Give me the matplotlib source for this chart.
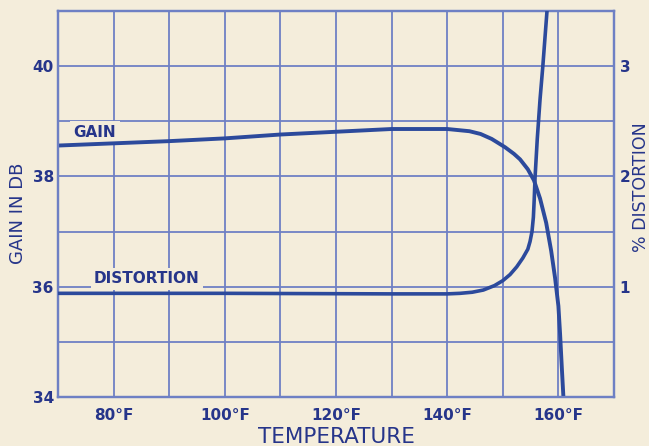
import numpy as np
import matplotlib.pyplot as plt

# gain curve (deg F, dB)
temp_gain = [70, 80, 90, 100, 110, 120, 130, 140, 144, 146, 148, 150.4, 152, 153.1, 154.5,
             155.6, 156.7, 157.8, 158.7, 159.4, 160.0, 160.3, 160.6, 160.9]
gain_db = [38.56, 38.60, 38.64, 38.69, 38.76, 38.81, 38.86, 38.86, 38.82, 38.77, 38.68,
           38.53, 38.41, 38.31, 38.13, 37.93, 37.60, 37.16, 36.65, 36.16, 35.65, 35.15,
           34.56, 34.0]

# distortion curve (deg F, %)
temp_dist = [70, 100, 130, 140, 142.3, 144.5, 146.5, 148.5, 150, 151.3, 152.5, 153.6,
             154.5, 154.9, 155.25, 155.5, 155.65, 155.8, 156.2, 156.7, 157.2, 157.95]
dist_pct = [0.94, 0.94, 0.935, 0.935, 0.94, 0.95, 0.97, 1.01, 1.055, 1.11, 1.18, 1.26,
            1.34, 1.41, 1.50, 1.63, 1.79, 1.99, 2.34, 2.70, 3.0, 3.5]

xtick_pos = [80, 100, 120, 140, 160]
xtick_lab = ['80°F', '100°F', '120°F', '140°F', '160°F']

bg = '#f4eddb'
grid_c = '#6e80c4'
ink = '#26358a'
curve_c = '#2c4a9c'

fig = plt.figure(figsize=(6.49, 4.46), dpi=100, facecolor=bg)
ax = fig.add_axes([58/649, 1 - 397/446, (614-58)/649, (397-11)/446])
ax.set_facecolor(bg)

ax.plot(temp_gain, gain_db, color=curve_c, lw=2.8, solid_joinstyle='round', zorder=3)
ax2 = ax.twinx()
ax2.plot(temp_dist, dist_pct, color=curve_c, lw=2.6, solid_joinstyle='round', zorder=3)

ax.set_xlim(70, 170)
ax.set_ylim(34, 41)
ax2.set_ylim(0, 3.5)

ax.set_xticks(range(70, 171, 10))
ax.set_xticklabels(['' if t not in xtick_pos else xtick_lab[xtick_pos.index(t)]
                    for t in range(70, 171, 10)])
ax.set_yticks(range(34, 42))
ax.set_yticklabels([str(v) if v in (34, 36, 38, 40) else '' for v in range(34, 42)])
ax2.set_yticks([1, 2, 3])
ax2.set_yticklabels(['1', '2', '3'])

ax.grid(True, color=grid_c, lw=1.3, zorder=0)
ax.set_axisbelow(True)
for a in (ax, ax2):
    for s in a.spines.values():
        s.set_color(grid_c)
        s.set_linewidth(1.6)
ax.tick_params(axis='both', length=0, colors=ink, labelsize=11)
ax.tick_params(axis='x', pad=8)
ax.tick_params(axis='y', pad=3)
ax2.tick_params(axis='y', length=0, colors=ink, labelsize=11, pad=4)
for lab in ax.get_xticklabels() + ax.get_yticklabels() + ax2.get_yticklabels():
    lab.set_fontweight('bold')

box = dict(facecolor=bg, edgecolor='none', pad=2.5)
ax.text(76.6, 38.8, 'GAIN', color=ink, fontsize=11, fontweight='bold',
        ha='center', va='center', bbox=box, zorder=2)
ax.text(86, 36.14, 'DISTORTION', color=ink, fontsize=11, fontweight='bold',
        ha='center', va='center', bbox=box, zorder=2)

fig.text(336/649, 1 - 437/446, 'TEMPERATURE', color=ink, fontsize=15.5,
         ha='center', va='center')
fig.text(18/649, 1 - 213/446, 'GAIN IN DB', color=ink, fontsize=13,
         rotation=90, ha='center', va='center')
fig.text(641/649, 1 - 187/446, '% DISTORTION', color=ink, fontsize=12.5,
         rotation=90, ha='center', va='center')

fig.savefig('out.png', dpi=100, facecolor=bg)
